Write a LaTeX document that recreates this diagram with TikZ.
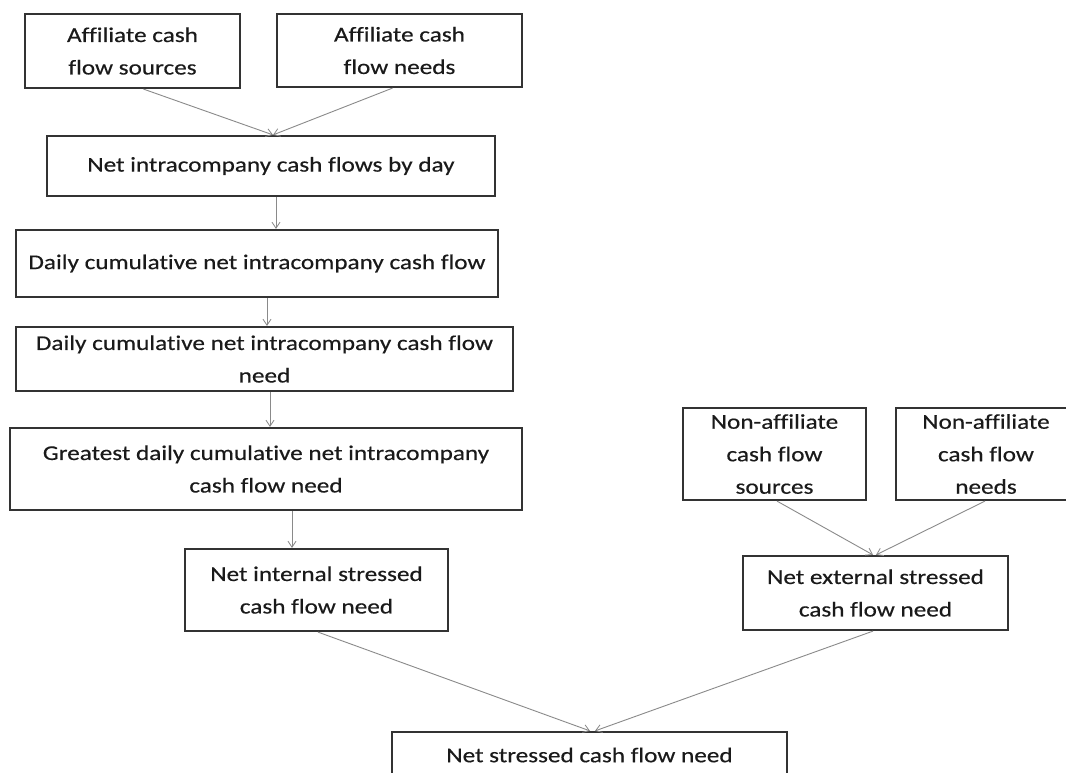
\documentclass[tikz,border=0pt]{standalone}
\usepackage{fontspec}
\setmainfont{Carlito}[FakeStretch=1.2, Ligatures={NoCommon}, FakeBold=0.4]
\usetikzlibrary{arrows.meta}
\definecolor{boxline}{HTML}{333333}
\definecolor{arrline}{HTML}{8A8A8A}
\definecolor{txt}{HTML}{1A1A1A}
\tikzset{
  box/.style={draw=boxline, line width=2.2pt, fill=white, inner sep=0pt, align=center,
    text=txt, font=\fontsize{21}{32.5}\selectfont},
  arr/.style={draw=arrline, line width=0.9pt, -{Straight Barb[length=6pt,width=8pt,line width=0.8pt]}}
}
\begin{document}
\begin{tikzpicture}[x=1pt,y=-1pt]
\fill[white] (0,0) rectangle (1066,773);
\useasboundingbox (0,0) rectangle (1066,773);
\clip (0,0) rectangle (1066,773);
\node[box, minimum width=215pt, minimum height=74pt] (b1) at (132.5,51) {Affiliate cash\\flow sources};
\node[box, minimum width=245pt, minimum height=73pt] (b2) at (399.5,50.5) {Affiliate cash\\flow needs};
\node[box, minimum width=448pt, minimum height=60pt] (b3) at (271,166) {Net intracompany cash flows by day};
\node[box, minimum width=482pt, minimum height=67pt] (b4) at (257,263.5) {Daily cumulative net intracompany cash flow};
\node[box, minimum width=497pt, minimum height=64pt] (b5) at (264.5,359) {Daily cumulative net intracompany cash flow\\need};
\node[box, minimum width=512pt, minimum height=82pt] (b6) at (266,469) {Greatest daily cumulative net intracompany\\cash flow need};
\node[box, minimum width=263pt, minimum height=82pt] (b7) at (316.5,590) {Net internal stressed\\cash flow need};
\node[box, minimum width=395pt, minimum height=46pt] (b8) at (589.5,755) {Net stressed cash flow need};
\node[box, minimum width=183pt, minimum height=92pt] (bA) at (774.5,454) {Non-affiliate\\cash flow\\sources};
\node[box, minimum width=180pt, minimum height=92pt] (bB) at (986,454) {Non-affiliate\\cash flow\\needs};
\node[box, minimum width=265pt, minimum height=74pt] (bE) at (875.5,593) {Net external stressed\\cash flow need};
\draw[arr] ([xshift=11pt]b1.south) -- ([xshift=2pt]b3.north);
\draw[arr] ([xshift=-7pt]b2.south) -- ([xshift=2pt]b3.north);
\draw[arr] ([xshift=5pt]b3.south) -- ([xshift=19pt]b4.north);
\draw[arr] ([xshift=10pt]b4.south) -- ([xshift=2.5pt]b5.north);
\draw[arr] ([xshift=5.5pt]b5.south) -- ([xshift=4pt]b6.north);
\draw[arr] ([xshift=26pt]b6.south) -- ([xshift=-24.5pt]b7.north);
\draw[arr] ([xshift=1.5pt]b7.south) -- ([xshift=0.5pt]b8.north);
\draw[arr] ([xshift=-2.5pt]bE.south) -- ([xshift=5.5pt]b8.north);
\draw[arr] ([xshift=2.5pt]bA.south) -- ([xshift=-2.5pt]bE.north);
\draw[arr] ([xshift=-1pt]bB.south) -- ([xshift=0.5pt]bE.north);
\end{tikzpicture}
\end{document}
